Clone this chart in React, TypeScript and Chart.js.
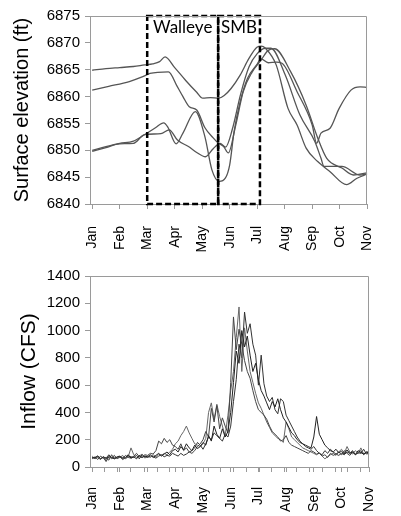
import React, { useEffect, useRef } from "react";
import { Chart, registerables } from "chart.js";
Chart.register(...registerables);

// ---------- categories / ticks ----------
const monthLabels = ["Jan", "Feb", "Mar", "Apr", "May", "Jun", "Jul", "Aug", "Sep", "Oct", "Nov"];
const monthDays = [31, 28, 31, 30, 31, 30, 31, 31, 30, 31];

// ---------- surface elevation (ft), x in months since Jan 1 ----------
const elevA_x = [0, 0.5, 1, 1.5, 1.9, 2.2, 2.45, 2.65, 3.0, 3.4, 3.8, 4.02, 4.3, 4.6, 4.8, 5.05, 5.38, 5.7, 5.99, 6.15, 6.3, 6.69, 7.12, 7.45, 7.78, 8.2, 8.65, 9.25, 9.63, 10];
const elevA_y = [6864.9, 6865.2, 6865.4, 6865.6, 6865.9, 6866.1, 6866.5, 6867.4, 6865.4, 6863, 6860.8, 6859.7, 6859.8, 6859.7, 6860.2, 6861.5, 6864, 6867.1, 6869.2, 6869.4, 6869, 6865.9, 6857.8, 6854.7, 6850.4, 6847.9, 6846, 6843.6, 6844.8, 6845.6];

const elevB_x = [0, 0.6, 1.35, 1.84, 2.1, 2.77, 3.1, 3.3, 3.53, 3.8, 4.1, 4.4, 4.57, 4.78, 4.95, 5.22, 5.49, 5.82, 6.14, 6.4, 6.63, 7.22, 7.78, 8.2, 8.53, 9.08, 9.5, 10];
const elevB_y = [6861.2, 6861.9, 6862.8, 6863.7, 6864.3, 6864.6, 6861.8, 6860, 6858.1, 6857.5, 6854.2, 6852.3, 6851.4, 6850.7, 6849.5, 6854.7, 6860.9, 6864.6, 6866.8, 6868.6, 6868.9, 6864.6, 6858.4, 6852.3, 6848.5, 6846.7, 6845.4, 6845.8];

const elevC_x = [0, 0.5, 1, 1.5, 1.9, 2.3, 2.6, 2.75, 3.05, 3.3, 3.75, 4.1, 4.35, 4.62, 4.84, 5.0, 5.16, 5.38, 5.65, 5.98, 6.14, 6.4, 6.7, 6.9, 7.45, 8.0, 8.16, 8.32, 8.65, 8.98, 9.41, 9.74, 10];
const elevC_y = [6850, 6850.7, 6851.3, 6851.7, 6852.9, 6854.2, 6855.1, 6854.3, 6851.2, 6853.2, 6857.2, 6852.5, 6846.4, 6844.2, 6844.8, 6847.3, 6853.5, 6859, 6863.4, 6865.9, 6867, 6866.3, 6866.4, 6866.2, 6860.9, 6854.7, 6851.3, 6853.2, 6854.1, 6857.8, 6861.2, 6861.8, 6861.7];

const elevD_x = [0, 0.5, 1, 1.5, 1.9, 2.5, 2.8, 3.1, 3.5, 3.8, 4.12, 4.4, 4.65, 4.85, 5.1, 5.4, 5.7, 6.0, 6.3, 6.5, 7.02, 7.55, 8.1, 8.32, 8.43, 9.08, 9.74, 10];
const elevD_y = [6849.8, 6850.5, 6851.2, 6851.3, 6852.9, 6853.1, 6853.8, 6851.9, 6850.7, 6849.6, 6848.8, 6850.3, 6851.3, 6850.6, 6854, 6860.5, 6865.5, 6868, 6869, 6869, 6864, 6856.6, 6851.6, 6848.5, 6847, 6847, 6845.4, 6845.6];

// spawning windows (months) drawn as dashed boxes
const walleyeWindow = [2.0, 4.58];
const smbWindow = [4.58, 6.1];
const windowElev = [6840, 6875];

// ---------- inflow (CFS), sampled every 0.1 month from Jan 1 ----------
const inflowStep = 0.1;
const inflow1 = [
  70, 65, 80, 60, 75, 55, 85, 70, 60, 75,
  80, 55, 70, 90, 65, 75, 60, 85, 70, 80,
  75, 90, 70, 85, 100, 80, 95, 110, 90, 120,
  130, 110, 150, 125, 170, 140, 120, 160, 135, 150,
  180, 160, 230, 190, 300, 240, 210, 280, 220, 260,
  400, 620, 850, 760, 1000, 880, 960, 820, 700, 760,
  640, 560, 520, 470, 420, 480, 440, 500, 420, 360,
  330, 290, 250, 230, 200, 180, 170, 160, 150, 140,
  220, 370, 240, 200, 160, 140, 120, 110, 130, 105,
  115, 95, 125, 100, 110, 90, 120, 105, 95, 110, 100,
];
const inflow2 = [
  60, 75, 55, 80, 65, 70, 50, 90, 60, 70,
  75, 60, 85, 70, 65, 80, 100, 75, 70, 90,
  85, 100, 95, 120, 190, 170, 210, 180, 200, 160,
  150, 130, 170, 120, 140, 110, 100, 120, 150, 170,
  200, 260, 220, 430, 330, 450, 280, 360, 300, 250,
  620, 1100, 860, 1010, 900, 780, 700, 650, 560, 480,
  420, 400, 380, 350, 300, 260, 240, 220, 190, 200,
  230, 180, 160, 150, 140, 130, 120, 110, 100, 120,
  110, 95, 100, 80, 90, 70, 100, 85, 95, 110,
  90, 120, 100, 85, 110, 95, 100, 120, 90, 105, 95,
];
const inflow3 = [
  80, 60, 70, 55, 75, 65, 90, 60, 70, 65,
  70, 85, 60, 75, 140, 90, 70, 80, 95, 65,
  80, 70, 90, 75, 95, 85, 100, 90, 110, 130,
  170, 190, 230, 260, 300, 250, 210, 170, 160, 150,
  170, 210, 400, 470, 350, 460, 370, 300, 230, 380,
  560, 700, 950, 1173, 700, 1020, 850, 700, 620, 540,
  470, 430, 380, 330, 290, 250, 230, 210, 200, 180,
  330, 280, 220, 200, 180, 160, 140, 130, 120, 110,
  100, 90, 105, 80, 60, 75, 90, 100, 85, 110,
  130, 100, 150, 110, 95, 120, 100, 140, 95, 110, 115,
];
const inflow4 = [
  65, 70, 80, 60, 70, 40, 75, 65, 85, 60,
  75, 70, 65, 80, 75, 70, 85, 60, 90, 75,
  70, 80, 75, 65, 80, 90, 75, 85, 80, 100,
  90, 80, 100, 85, 95, 110, 120, 140, 180, 160,
  130, 170, 220, 200, 250, 230, 210, 190, 240, 220,
  300, 480, 640, 900, 800, 1136, 980, 1050, 900, 820,
  600, 820, 610, 520, 480, 510, 420, 390, 500, 480,
  380, 340, 300, 260, 220, 190, 170, 150, 140, 130,
  150, 120, 100, 90, 120, 100, 130, 110, 95, 85,
  100, 90, 110, 100, 120, 90, 105, 100, 130, 95, 100,
];

const FONT = "'Liberation Sans', Arial, sans-serif";
const AXIS_GRAY = "#9a9a9a";

function pairs(xs: number[], ys: number[]) {
  return ys.map((y, i) => ({ x: xs[i], y }));
}
function series(vals: number[]) {
  return vals.map((y, i) => ({ x: i * inflowStep, y }));
}

// biweekly minor tick positions in month units
function biweeklyTicks(): number[] {
  const out: number[] = [];
  const total = monthDays.reduce((a, b) => a + b, 0);
  for (let d = 0; d <= total; d += 14) {
    let rem = d;
    let m = 0;
    while (m < monthDays.length && rem >= monthDays[m]) {
      rem -= monthDays[m];
      m++;
    }
    const pos = m < monthDays.length ? m + rem / monthDays[m] : m;
    out.push(pos);
  }
  return out;
}

const framePlugin = {
  id: "frame",
  afterDraw(chart: any) {
    const { ctx, chartArea } = chart;
    const { left, top, right, bottom } = chartArea;
    ctx.save();
    ctx.strokeStyle = AXIS_GRAY;
    ctx.lineWidth = 1;
    ctx.beginPath();
    ctx.moveTo(left, Math.round(top) + 0.5);
    ctx.lineTo(Math.round(right) - 0.5, Math.round(top) + 0.5);
    ctx.lineTo(Math.round(right) - 0.5, bottom);
    ctx.stroke();
    ctx.restore();
  },
};

function titlePlugin(text: string, cx: number, size: number) {
  return {
    id: "ytitle",
    afterDraw(chart: any) {
      const { ctx, chartArea } = chart;
      const cy = (chartArea.top + chartArea.bottom) / 2;
      ctx.save();
      ctx.translate(cx, cy);
      ctx.rotate(-Math.PI / 2);
      ctx.fillStyle = "#000";
      ctx.font = `${size}px ${FONT}`;
      ctx.textAlign = "center";
      ctx.textBaseline = "middle";
      ctx.fillText(text, 0, 0);
      ctx.restore();
    },
  };
}

const boxPlugin = {
  id: "boxes",
  afterDatasetsDraw(chart: any) {
    const { ctx, scales } = chart;
    const xs = scales.x;
    const ys = scales.y;
    const yTop = ys.getPixelForValue(windowElev[1]);
    const yBot = ys.getPixelForValue(windowElev[0]);
    ctx.save();
    ctx.strokeStyle = "#000";
    ctx.lineWidth = 2.5;
    ctx.setLineDash([6, 3]);
    const boxes: [number[], string][] = [
      [walleyeWindow, "Walleye"],
      [smbWindow, "SMB"],
    ];
    for (const [w] of boxes) {
      const x0 = xs.getPixelForValue(w[0]);
      const x1 = xs.getPixelForValue(w[1]);
      ctx.strokeRect(x0, yTop, x1 - x0, yBot - yTop);
    }
    ctx.setLineDash([]);
    ctx.fillStyle = "#000";
    ctx.font = "17px Lato, 'Open Sans', sans-serif";
    ctx.textAlign = "center";
    ctx.textBaseline = "middle";
    for (const [w, label] of boxes) {
      const x0 = xs.getPixelForValue(w[0]);
      const x1 = xs.getPixelForValue(w[1]);
      ctx.fillText(label, (x0 + x1) / 2, yTop + 12);
    }
    ctx.restore();
  },
};

function xScale(withMinor: boolean, axisHeight: number, pad: number) {
  const minor = biweeklyTicks();
  return {
    type: "linear",
    min: -0.08,
    max: 10,
    afterBuildTicks: (s: any) => {
      const vals = monthLabels.map((_, i) => i);
      const all = withMinor ? Array.from(new Set([...vals, ...minor])).sort((a, b) => a - b) : vals;
      s.ticks = all.map((v) => ({ value: v }));
    },
    afterFit: (s: any) => {
      s.height = axisHeight;
    },
    ticks: {
      autoSkip: false,
      maxRotation: 90,
      minRotation: 90,
      padding: pad,
      color: "#000",
      font: { family: FONT, size: 14 },
      callback: (v: number) => (Number.isInteger(v) ? monthLabels[v] : ""),
    },
    grid: { drawOnChartArea: false, drawTicks: true, tickLength: 5, color: AXIS_GRAY },
    border: { display: true, color: AXIS_GRAY },
  };
}

function yScale(min: number, max: number, step: number) {
  return {
    type: "linear",
    min,
    max,
    afterFit: (s: any) => {
      s.width = 90;
    },
    ticks: {
      stepSize: step,
      padding: 5,
      color: "#000",
      font: { family: FONT, size: 15 },
      callback: (v: number) => String(v),
    },
    grid: { drawOnChartArea: false, drawTicks: true, tickLength: 5, color: AXIS_GRAY },
    border: { display: true, color: AXIS_GRAY },
  };
}

export default function App() {
  const topRef = useRef<HTMLCanvasElement>(null);
  const botRef = useRef<HTMLCanvasElement>(null);

  useEffect(() => {
    const lineStyle = {
      borderColor: "#555",
      borderWidth: 1.3,
      pointRadius: 0,
      fill: false,
      cubicInterpolationMode: "monotone",
    };
    const top = new Chart(topRef.current!, {
      type: "line",
      data: {
        datasets: [
          { ...lineStyle, data: pairs(elevA_x, elevA_y) },
          { ...lineStyle, data: pairs(elevB_x, elevB_y) },
          { ...lineStyle, data: pairs(elevC_x, elevC_y) },
          { ...lineStyle, data: pairs(elevD_x, elevD_y) },
        ] as any,
      },
      options: {
        responsive: false,
        animation: false,
        devicePixelRatio: 1,
        layout: { padding: { top: 16, right: 3, left: 0, bottom: 0 } },
        plugins: { legend: { display: false }, tooltip: { enabled: false } },
        scales: {
          x: xScale(false, 54, 17),
          y: yScale(6840, 6875, 5),
        } as any,
      },
      plugins: [framePlugin, boxPlugin, titlePlugin("Surface elevation (ft)", 22, 20)],
    });

    const flowStyle = { borderWidth: 1, pointRadius: 0, fill: false, tension: 0 };
    const bot = new Chart(botRef.current!, {
      type: "line",
      data: {
        datasets: [
          { ...flowStyle, borderColor: "#222", data: series(inflow1) },
          { ...flowStyle, borderColor: "#444", data: series(inflow2) },
          { ...flowStyle, borderColor: "#666", data: series(inflow3) },
          { ...flowStyle, borderColor: "#333", data: series(inflow4) },
        ] as any,
      },
      options: {
        responsive: false,
        animation: false,
        devicePixelRatio: 1,
        layout: { padding: { top: 18, right: 3, left: 0, bottom: 0 } },
        plugins: { legend: { display: false }, tooltip: { enabled: false } },
        scales: {
          x: xScale(true, 49, 15),
          y: yScale(0, 1400, 200),
        } as any,
      },
      plugins: [framePlugin, titlePlugin("Inflow (CFS)", 29, 21)],
    });

    return () => {
      top.destroy();
      bot.destroy();
    };
  }, []);

  return (
    <div style={{ position: "fixed", left: 0, top: 0, width: 401, height: 516, background: "#fff", overflow: "hidden" }}>
      <canvas ref={topRef} width={401} height={258} style={{ display: "block" }} />
      <canvas ref={botRef} width={401} height={258} style={{ display: "block" }} />
    </div>
  );
}
